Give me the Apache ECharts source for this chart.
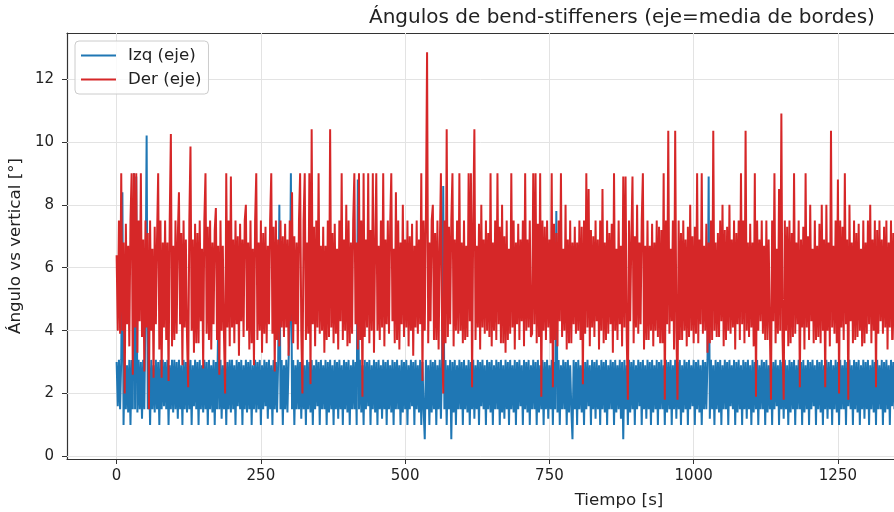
<!DOCTYPE html>
<html>
<head>
<meta charset="utf-8">
<script src="https://cdn.jsdelivr.net/npm/echarts@6/dist/echarts.min.js"></script>
<style>html,body{margin:0;padding:0;background:#fff;}#c{width:894px;height:512px;}</style>
</head>
<body>
<div id="c"></div>
<script>
// sample spacing [s]
const DT = 2;
const xTicks = [0, 250, 500, 750, 1000, 1250];
const yTicks = [0, 2, 4, 6, 8, 10, 12];
const seriesNames = ['Izq (eje)', 'Der (eje)'];

const izq = [
3.0,1.6,3.07,1.5,3.07,8.4,1.0,3.07,1.5,2.9,1.4,3.07,1.0,3.07,1.5,9.0,1.5,8.9,1.4,3.07,
1.5,3.0,1.2,3.07,1.5,4.8,10.2,1.5,3.07,1.0,3.07,1.5,2.9,1.4,3.07,1.5,3.0,1.0,3.07,1.5,
3.07,1.6,3.0,1.5,3.07,1.0,2.9,1.5,3.07,1.4,3.07,1.5,3.0,1.2,3.07,1.5,2.9,1.0,3.07,1.5,
3.0,1.4,3.07,1.5,3.07,1.0,2.9,1.6,3.07,1.5,3.0,1.0,3.07,1.5,2.9,1.4,3.07,1.5,3.0,1.0,
3.07,1.5,2.9,1.4,3.07,1.0,3.0,1.5,4.3,1.5,3.07,1.2,2.9,1.5,3.07,1.0,3.0,1.5,3.07,1.4,
3.07,1.5,2.9,1.0,3.07,1.6,3.0,1.5,3.07,1.0,2.9,1.5,3.07,1.4,3.0,1.5,3.07,1.0,2.9,1.5,
3.07,1.4,3.0,1.5,3.07,1.0,2.9,1.5,3.07,1.6,3.0,1.2,3.07,1.5,2.9,1.0,3.07,1.5,3.0,1.4,
3.07,8.0,1.5,3.07,1.0,2.9,1.5,3.07,1.4,3.0,4.4,9.0,1.5,3.07,1.0,2.9,1.5,3.07,1.5,3.0,
1.2,3.07,1.5,2.9,1.0,3.07,1.5,3.0,1.4,3.07,1.0,2.9,1.5,3.07,1.6,3.0,1.0,3.07,1.5,2.9,
1.5,3.07,1.0,3.0,1.4,3.07,1.5,2.9,1.0,3.07,1.5,3.0,1.2,3.07,1.5,2.9,1.0,3.07,1.5,3.0,
1.4,3.07,1.0,2.9,1.5,3.07,1.5,3.0,1.0,8.8,1.5,3.07,1.4,2.9,1.0,3.07,1.5,3.0,1.6,3.07,
1.0,2.9,1.5,3.07,1.4,3.0,1.0,3.07,1.5,2.9,1.2,3.07,1.5,3.0,1.0,3.07,1.5,2.9,1.4,3.07,
1.0,3.0,1.5,3.07,1.5,2.9,1.0,3.07,1.4,3.0,1.5,3.07,1.0,2.9,1.5,3.07,1.6,3.0,1.0,3.07,
1.5,2.9,1.4,3.07,1.0,3.0,1.5,0.55,3.07,1.5,2.9,1.0,3.07,1.4,3.0,1.5,3.07,1.0,2.9,1.5,
3.07,1.2,3.0,8.6,1.5,3.07,1.0,2.9,1.5,3.07,0.55,3.0,1.4,3.07,1.0,2.9,1.5,3.07,1.5,3.0,
1.0,3.07,1.5,2.9,1.4,3.07,1.0,3.0,1.5,3.07,1.2,2.9,1.5,3.07,1.0,3.0,1.6,3.07,1.5,2.9,
1.0,3.07,1.5,3.0,1.4,3.07,1.0,2.9,1.5,3.07,1.5,3.0,1.0,3.07,1.4,2.9,1.2,3.07,1.5,3.0,
1.0,3.07,1.5,2.9,1.4,3.07,1.0,3.0,1.5,3.07,1.6,2.9,1.0,3.07,1.5,3.0,1.4,3.07,1.0,2.9,
1.5,3.07,1.5,3.0,1.0,3.07,1.4,2.9,1.5,3.07,1.0,3.0,1.5,3.07,1.2,2.9,1.5,3.07,1.0,3.0,
1.5,7.8,1.4,3.07,1.0,2.9,1.5,3.07,1.5,3.0,1.0,3.07,1.4,2.9,1.5,0.55,3.07,1.5,3.0,1.0,
3.07,1.5,2.9,1.4,3.07,1.0,3.0,1.5,3.07,1.6,2.9,1.0,3.07,1.5,3.0,1.2,3.07,1.5,2.9,1.0,
3.07,1.5,3.0,1.4,3.07,1.0,2.9,1.5,3.07,1.5,3.0,1.0,3.07,1.4,2.9,1.5,3.07,1.2,3.0,0.55,
3.07,1.5,2.9,1.0,3.07,1.4,3.0,1.5,3.07,1.0,2.9,1.5,3.07,1.6,3.0,1.0,3.07,1.5,2.9,1.2,
3.07,1.5,3.0,1.0,3.07,1.4,2.9,1.5,3.07,1.0,3.0,1.5,3.07,1.5,2.9,1.0,3.07,1.4,3.0,1.5,
3.07,1.0,2.9,1.5,3.07,1.2,3.0,1.5,3.07,1.0,2.9,1.4,3.07,1.5,3.0,1.0,3.07,1.5,2.9,1.6,
3.07,1.0,3.0,1.5,3.07,1.4,2.9,1.0,3.07,1.5,3.0,1.5,3.07,8.9,1.2,3.07,1.5,2.9,1.0,3.07,
1.5,3.0,1.4,3.07,1.0,2.9,1.5,3.07,1.5,3.0,1.0,3.07,1.6,2.9,1.5,3.07,1.0,3.0,1.4,3.07,
1.5,2.9,1.0,3.07,1.5,3.0,1.2,3.07,1.5,2.9,1.0,3.07,1.4,3.0,1.5,3.07,1.0,2.9,1.5,3.07,
1.5,3.0,1.0,3.07,1.4,2.9,1.5,3.07,1.0,3.0,1.5,3.07,1.6,2.9,1.0,3.07,1.5,3.0,1.2,3.07,
1.5,2.9,1.0,3.07,1.4,3.0,1.5,3.07,1.0,2.9,1.5,3.07,1.5,3.0,1.0,3.07,1.4,2.9,1.5,3.07,
1.0,3.0,1.5,3.07,1.6,2.9,1.0,3.07,1.5,3.0,1.4,3.07,1.0,2.9,1.5,3.07,1.2,3.0,1.5,3.07,
1.0,2.9,1.5,3.07,1.4,3.0,1.0,3.07,1.5,2.9,1.5,3.07,1.0,3.0,1.6,3.07,1.5,2.9,1.0,3.07,
1.5,3.0,1.4,3.07,1.0,2.9,1.5,3.07,1.2,3.0,1.5,3.07,1.0,2.9,1.5,3.07,1.4,3.0,1.0,3.07,
1.5,2.9,1.5,3.07,1.0,3.0,1.4,3.07,1.5,2.9,1.0,3.07,1.6,3.0,1.5,3.07,1.0,2.9,1.5,3.07,
1.4
];

const der = [
6.4,4.0,7.5,3.9,9.0,4.0,6.8,2.0,7.4,4.2,6.7,3.5,7.5,9.0,2.6,9.0,4.1,9.0,3.3,7.5,
4.3,9.0,3.8,6.9,2.7,7.5,4.1,7.1,1.5,7.5,4.0,6.6,2.5,7.3,4.2,6.9,9.0,3.4,7.5,2.5,
6.8,4.1,7.5,3.7,6.8,2.4,7.5,10.25,3.5,6.7,3.7,7.5,3.9,7.0,8.4,4.2,7.1,2.9,7.5,4.1,
6.9,3.8,2.2,7.5,9.85,4.0,6.9,3.3,7.4,3.6,7.1,3.6,7.5,4.3,6.6,2.8,7.5,9.0,3.9,7.3,
3.7,7.5,3.4,6.8,4.2,7.2,7.9,3.7,6.7,2.6,7.5,4.0,6.7,3.9,2.0,9.0,4.1,7.5,3.5,8.9,
4.1,6.9,3.6,7.5,4.2,7.0,3.2,7.4,4.3,6.9,3.8,7.5,8.0,4.0,6.8,3.4,7.5,3.6,6.6,2.9,
7.5,9.0,3.7,6.8,4.0,7.5,3.3,7.1,3.9,7.3,3.6,6.7,4.2,7.5,9.0,3.9,7.3,2.7,7.5,3.7,
6.9,3.5,7.5,4.1,7.0,3.8,7.4,4.1,6.9,3.2,7.5,4.3,8.4,3.6,7.0,4.2,6.8,3.4,7.5,9.0,
4.0,2.0,7.5,9.0,3.7,6.8,3.9,9.0,2.3,10.4,4.2,7.3,3.5,7.5,4.1,9.0,3.9,6.7,4.0,7.3,
3.3,6.7,3.7,7.5,3.8,10.4,4.1,7.1,3.6,7.4,3.9,6.6,3.4,7.5,4.3,9.0,3.7,6.9,4.0,8.0,
3.5,7.5,3.6,6.8,3.9,7.5,9.0,4.2,6.8,3.4,9.0,3.7,7.5,1.9,9.0,3.8,6.9,4.1,9.0,3.6,
7.2,4.0,9.0,3.3,6.7,9.0,4.0,6.7,3.7,7.5,4.1,9.0,3.5,6.9,4.2,7.5,3.9,7.3,9.0,4.3,
6.6,3.6,8.4,3.7,7.5,3.4,6.8,4.2,8.0,3.8,6.9,4.1,7.5,3.5,7.0,4.0,7.4,3.2,6.7,4.1,
7.5,3.9,6.9,4.2,9.0,2.4,7.5,4.0,7.6,12.85,3.6,6.8,4.3,7.5,8.0,3.7,7.1,3.7,7.5,3.4,
6.6,9.0,4.1,2.0,7.5,3.6,10.4,3.8,7.3,4.2,7.5,9.0,3.5,6.9,4.0,7.5,3.9,9.0,4.0,6.8,
3.6,7.5,3.7,6.7,3.8,9.0,4.3,9.0,2.2,7.5,10.4,3.7,6.7,4.1,7.4,3.4,8.0,4.1,6.9,3.9,
7.5,4.0,7.1,3.8,9.0,3.5,6.8,4.0,7.5,3.7,9.0,4.2,7.3,3.6,8.0,3.6,7.0,3.3,7.5,3.7,
6.6,3.9,9.0,4.1,7.5,3.4,6.8,4.2,7.4,3.7,6.9,4.3,7.5,3.5,9.0,4.0,6.9,4.1,7.5,3.8,
3.9,9.0,4.2,9.0,3.6,7.4,3.8,9.0,1.9,7.5,4.0,7.3,3.7,7.5,4.1,6.9,3.6,9.0,2.2,7.4,
3.7,7.1,3.5,7.5,4.3,9.0,3.8,6.6,4.0,8.0,3.4,6.9,3.6,7.5,3.6,6.8,4.2,7.3,3.9,6.8,
4.0,7.5,3.7,7.3,2.3,7.5,3.9,9.0,4.1,8.5,3.5,7.2,4.1,7.0,3.8,7.5,4.3,6.9,3.4,7.5,
4.0,8.5,3.6,6.8,3.7,7.5,3.9,7.1,4.2,7.4,3.3,9.0,4.0,6.6,3.7,7.5,4.2,6.7,3.5,8.9,
4.1,8.9,3.8,1.8,7.5,4.3,6.9,8.9,3.6,7.0,4.1,8.0,3.9,6.8,4.2,7.5,9.0,3.4,6.7,3.7,
7.5,3.7,6.7,4.0,7.4,3.5,6.8,4.0,7.5,3.8,7.3,3.6,7.2,3.6,9.0,1.8,7.5,4.2,10.35,3.9,
6.6,4.3,7.5,3.4,10.35,4.1,1.8,7.5,3.7,7.1,3.7,7.5,4.0,6.9,3.5,7.3,3.8,8.0,4.0,7.0,
3.6,7.3,3.9,9.0,3.6,6.9,4.2,9.0,3.9,6.7,4.0,7.4,3.3,6.8,3.6,7.5,3.7,10.35,4.0,6.8,
3.8,7.1,3.8,7.5,4.3,8.0,3.5,7.2,3.7,7.3,4.0,8.0,3.9,6.9,4.1,7.5,3.4,7.1,4.2,7.5,
3.7,9.0,4.2,7.5,3.6,10.35,4.0,6.8,3.8,7.4,4.1,6.8,3.5,9.0,1.9,7.5,4.0,6.9,4.3,7.5,
3.9,6.7,3.7,7.5,3.7,6.9,4.1,1.8,7.5,4.3,9.0,3.6,6.6,3.9,8.5,4.0,10.9,3.8,1.8,7.5,
4.0,7.3,3.5,7.5,3.6,7.1,3.8,9.0,3.9,6.8,4.2,7.5,2.2,6.9,4.1,7.3,3.4,9.0,4.1,7.0,
3.7,8.0,4.3,6.6,3.6,7.5,3.7,6.7,3.8,7.4,3.6,8.0,4.0,6.9,2.2,8.0,4.0,6.8,3.5,10.35,
4.1,6.7,3.9,7.5,3.6,8.8,2.0,7.5,4.1,7.3,3.7,9.0,4.2,6.9,1.8,8.0,4.3,6.8,3.6,7.5,
3.7,7.1,3.8,7.4,4.0,6.6,3.5,7.5,3.6,6.8,3.9,7.5,4.2,8.0,3.6,6.9,4.0,7.5,2.2,7.2,
3.9,7.5,4.3,6.9,3.9,7.3,4.1,7.5,3.4,6.8,4.1,7.5,3.7,7.1,3.7,7.4,3.8,6.7,4.2,7.5,
3.6
];

const FONT = 'DejaVu Sans';
const toPairs = arr => arr.map((v, i) => [i * DT, v]);
const X_MIN = -86, X_MAX = 1347.2;
const Y_MIN = -0.08, Y_MAX = 13.46;

const chart = echarts.init(document.getElementById('c'), null, {renderer: 'canvas'});
chart.setOption({
  animation: false,
  backgroundColor: '#ffffff',
  title: {
    text: 'Ángulos de bend-stiffeners (eje=media de bordes)',
    left: 364, top: 3,
    textStyle: {fontFamily: FONT, fontSize: 20, fontWeight: 'normal', color: '#222'}
  },
  legend: {
    orient: 'vertical', left: 75, top: 41,
    data: seriesNames,
    icon: 'rect', itemWidth: 35, itemHeight: 2,
    itemGap: 7,
    padding: [6, 7, 6, 6],
    backgroundColor: 'rgba(255,255,255,0.8)',
    borderColor: '#cccccc', borderWidth: 1, borderRadius: 4,
    textStyle: {fontFamily: FONT, fontSize: 16.7, color: '#222', padding: [0, 0, 0, 7]}
  },
  grid: {
    left: 67, top: 33, right: 0, height: 426,
    outerBoundsMode: 'none',
    show: false
  },
  xAxis: [{
    type: 'value', min: X_MIN, max: X_MAX,
    name: 'Tiempo [s]', nameLocation: 'middle', nameGap: 33,
    nameTextStyle: {fontFamily: FONT, fontSize: 16.7, color: '#222', padding: [0, 0, 0, 277]},
    axisLine: {show: true, onZero: false, lineStyle: {color: '#333', width: 1.2}},
    axisTick: {show: true, length: 5, customValues: xTicks, lineStyle: {color: '#333', width: 1}},
    axisLabel: {customValues: xTicks, formatter: v => String(v), fontFamily: FONT, fontSize: 15, color: '#222', margin: 10},
    splitLine: {show: false}
  }, {
    type: 'value', min: X_MIN, max: X_MAX, position: 'top',
    axisLine: {show: true, onZero: false, lineStyle: {color: '#333', width: 1.2}},
    axisTick: {show: false}, axisLabel: {show: false}, splitLine: {show: false}
  }],
  yAxis: {
    type: 'value', min: Y_MIN, max: Y_MAX,
    name: 'Ángulo vs vertical [°]', nameLocation: 'middle', nameGap: 40, nameRotate: 90,
    nameTextStyle: {fontFamily: FONT, fontSize: 16.7, color: '#222'},
    axisLine: {show: true, onZero: false, lineStyle: {color: '#333', width: 1.2}},
    axisTick: {show: true, length: 5, customValues: yTicks, lineStyle: {color: '#333', width: 1}},
    axisLabel: {customValues: yTicks, formatter: v => String(v), fontFamily: FONT, fontSize: 15, color: '#222', margin: 13},
    splitLine: {show: false}
  },
  series: [
    {
      name: '__grid', type: 'line', data: [], z: 1, silent: true,
      markLine: {
        z: 1, silent: true, symbol: 'none', animation: false, label: {show: false},
        lineStyle: {color: '#e3e3e3', width: 1, type: 'solid'},
        emphasis: {disabled: true},
        data: xTicks.map(v => ({xAxis: v})).concat(yTicks.map(v => ({yAxis: v})))
      }
    },
    {
      name: seriesNames[0], type: 'line', data: toPairs(izq), z: 3,
      showSymbol: false, symbol: 'none', sampling: null,
      itemStyle: {color: '#1f77b4'},
      lineStyle: {color: '#1f77b4', width: 2}
    },
    {
      name: seriesNames[1], type: 'line', data: toPairs(der), z: 4,
      showSymbol: false, symbol: 'none', sampling: null,
      itemStyle: {color: '#d62728'},
      lineStyle: {color: '#d62728', width: 2}
    }
  ]
});
</script>
</body>
</html>
